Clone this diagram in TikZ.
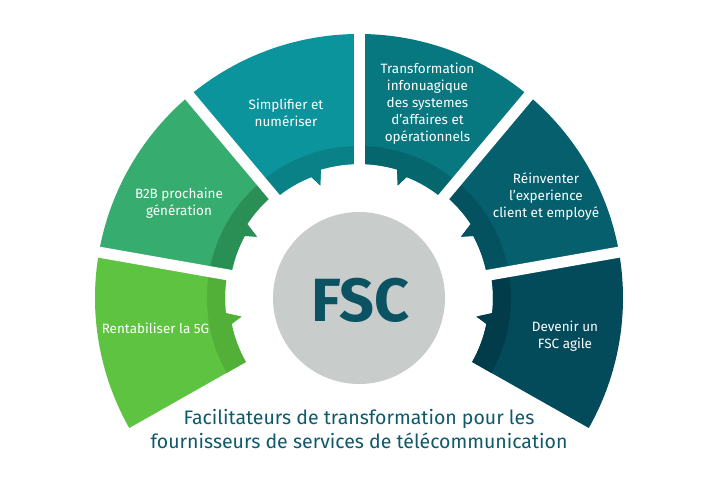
\documentclass[tikz,border=0pt]{standalone}
\usepackage{fontspec}
\setmainfont{Fira Sans}
\definecolor{sAl}{RGB}{94,195,65}\definecolor{sAd}{RGB}{82,175,56}
\definecolor{sBl}{RGB}{54,173,110}\definecolor{sBd}{RGB}{42,143,85}
\definecolor{sCl}{RGB}{11,148,156}\definecolor{sCd}{RGB}{10,129,134}
\definecolor{sDl}{RGB}{7,119,128}\definecolor{sDd}{RGB}{6,102,110}
\definecolor{sEl}{RGB}{5,95,109}\definecolor{sEd}{RGB}{4,82,96}
\definecolor{sFl}{RGB}{3,74,91}\definecolor{sFd}{RGB}{2,59,73}
\definecolor{circfill}{RGB}{200,204,203}
\definecolor{fsctext}{RGB}{11,82,99}
\definecolor{titletext}{RGB}{14,90,107}
\tikzset{
  lbl/.style={text=white, align=center, inner sep=0pt, font=\fontsize{13.5}{17}\selectfont},
  gapline/.style={white, line width=11pt},
}
% left-side segment: tooth on the low-angle side (toward 90 deg)
\newcommand\segleft[5]{%
  \begin{scope}
    \clip (#1:264) arc[start angle=#1, end angle=#2, radius=264]
      -- (#2:130) arc[start angle=#2, end angle={#3+1.5}, radius=130]
      -- ({#3-1}:119) -- ({#3-3.5}:134)
      arc[start angle={#3-3.5}, end angle=#1, radius=134] -- cycle;
    \fill[#4] (0,0) circle (300);
    \fill[#5] (0,0) circle (152);
  \end{scope}}
% right-side segment: tooth on the high-angle side (toward 90 deg)
\newcommand\segright[5]{%
  \begin{scope}
    \clip (#1:264) arc[start angle=#1, end angle=#2, radius=264]
      -- (#2:134) arc[start angle=#2, end angle={#3+3.5}, radius=134]
      -- ({#3+1}:119) -- ({#3-1.5}:130)
      arc[start angle={#3-1.5}, end angle=#1, radius=130] -- cycle;
    \fill[#4] (0,0) circle (300);
    \fill[#5] (0,0) circle (152);
  \end{scope}}
\begin{document}
\begin{tikzpicture}[x=1pt,y=1pt]
\useasboundingbox (-359,-188) rectangle (361,298);
\fill[white] (-359,-188) rectangle (361,298);
\segleft{170}{209.5}{190}{sAl}{sAd}
\segleft{130}{170}{150}{sBl}{sBd}
\segleft{90}{130}{110}{sCl}{sCd}
\segright{50}{90}{70}{sDl}{sDd}
\segright{10}{50}{30}{sEl}{sEd}
\segright{-29.5}{10}{-10}{sFl}{sFd}
\foreach \g in {10,50,90,130,170} \draw[gapline] (\g:110) -- (\g:275);
\fill[circfill] (0,0) circle (86);
\node[text=fsctext, inner sep=0pt, font=\fontsize{61}{61}\selectfont\bfseries] (fsc) at (1.5,-2) {FSC};
\node[lbl] (sA) at (-203.5,-30) {Rentabiliser la 5G};
\node[lbl] (sB) at (-180,95) {B2B prochaine\\génération};
\node[lbl] (sC) at (-73,185) {Simplifier et\\numériser};
\node[lbl] (sD) at (68.5,194) {Transformation\\infonuagique\\des systemes\\d’affaires et\\opérationnels};
\node[lbl] (sE) at (187,101) {Réinventer\\l’experience\\client et employé};
\node[lbl] (sF) at (206,-38.5) {Devenir un\\FSC agile};
\node[text=titletext, align=center, inner sep=0pt, font=\fontsize{19.5}{24}\selectfont] (title) at (0,-131)
  {Facilitateurs de transformation pour les\\fournisseurs de services de télécommunication};
\end{tikzpicture}
\end{document}
